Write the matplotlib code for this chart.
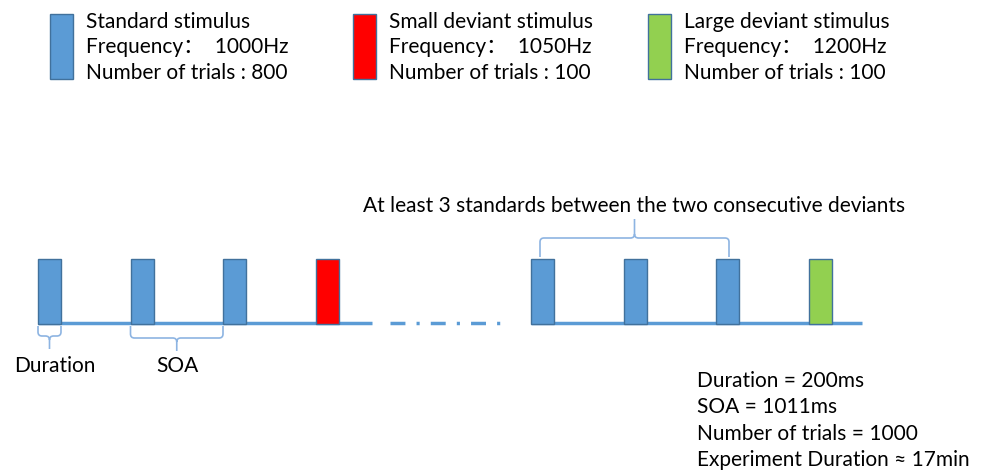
import matplotlib.pyplot as plt
from matplotlib.patches import Rectangle, PathPatch
from matplotlib.path import Path

# stimulus types
stim_names = ["Standard stimulus", "Small deviant stimulus", "Large deviant stimulus"]
stim_freq = ["1000Hz", "1050Hz", "1200Hz"]
stim_trials = [800, 100, 100]
stim_colors = ["#5B9BD5", "#FF0000", "#92D050"]

# sequences shown on the timeline (index into stim lists)
seq_left = [0, 0, 0, 1]
seq_right = [0, 0, 0, 2]

summary = ["Duration = 200ms", "SOA = 1011ms", "Number of trials = 1000",
           "Experiment Duration \u2248 17min"]

plt.rcParams['font.family'] = ['Lato', 'Noto Sans CJK SC', 'DejaVu Sans']

fig = plt.figure(figsize=(9.81, 4.76), dpi=100)
ax = fig.add_axes([0, 0, 1, 1])
ax.set_xlim(0, 981)
ax.set_ylim(476, 0)
ax.axis('off')

line_c = "#5B9BD5"
edge_c = "#41719C"
brace_c = "#8DB4E2"
fs = 15

# legend blocks
leg_x = [50, 353, 648]
for i in range(3):
    ax.add_patch(Rectangle((leg_x[i], 14), 23, 65, facecolor=stim_colors[i],
                           edgecolor=edge_c, lw=1))
    tx = leg_x[i] + 36
    ax.text(tx, 22, stim_names[i], fontsize=fs, va='center', ha='left')
    ax.text(tx, 47, "Frequency\uff1a  " + stim_freq[i], fontsize=fs, va='center', ha='left')
    ax.text(tx, 73, "Number of trials : %d" % stim_trials[i], fontsize=fs,
            va='center', ha='left')

# timeline
base_y = 323
bar_h = 64
bar_w = 23
soa = 92.5


def draw_seq(seq, x0, x_end):
    ax.plot([x0, x_end], [base_y, base_y], color=line_c, lw=2.5, solid_capstyle='butt',
            zorder=1)
    xs = []
    for k, s in enumerate(seq):
        x = x0 + k * soa
        xs.append(x)
        ax.add_patch(Rectangle((x, base_y - bar_h), bar_w, bar_h + 1,
                               facecolor=stim_colors[s], edgecolor=edge_c, lw=1, zorder=2))
    return xs


left_xs = draw_seq(seq_left, 38, 372)
right_xs = draw_seq(seq_right, 531, 862)

# dash-dot gap
ax.plot([390, 504], [base_y, base_y], color=line_c, lw=2.5,
        dashes=(4.3, 3.2, 0.9, 3.2), dash_capstyle='butt')


def brace(x0, x1, y0, y1, ytip, r=4):
    # y0: start of arms, y1: horizontal level, ytip: stem end
    xm = (x0 + x1) / 2
    s = 1 if y1 > y0 else -1
    verts = [(x0, y0), (x0, y1 - s * r), (x0, y1), (x0 + r, y1),
             (xm - r, y1), (xm, y1), (xm, y1 + s * r),
             (xm, ytip), (xm, y1 + s * r), (xm, y1), (xm + r, y1),
             (x1 - r, y1), (x1, y1), (x1, y1 - s * r), (x1, y0)]
    codes = [Path.MOVETO, Path.LINETO, Path.CURVE3, Path.CURVE3,
             Path.LINETO, Path.CURVE3, Path.CURVE3,
             Path.LINETO, Path.MOVETO, Path.CURVE3, Path.CURVE3,
             Path.LINETO, Path.CURVE3, Path.CURVE3, Path.LINETO]
    ax.add_patch(PathPatch(Path(verts, codes), fill=False, edgecolor=brace_c, lw=1.2))


brace(left_xs[0], left_xs[0] + bar_w, 326, 336, 349)
brace(left_xs[1], left_xs[2], 326, 338, 351)
brace(right_xs[0] + 9, right_xs[2] + 13, 257, 238, 219)

ax.text(55, 366, "Duration", fontsize=fs, ha='center', va='center')
ax.text(177, 366, "SOA", fontsize=fs, ha='center', va='center')
ax.text(634, 206, "At least 3 standards between the two consecutive deviants",
        fontsize=fs, ha='center', va='center')

for j, s in enumerate(summary):
    ax.text(697, 381 + j * 26.3, s, fontsize=fs, ha='left', va='center')

fig.savefig("out.png", dpi=100)
